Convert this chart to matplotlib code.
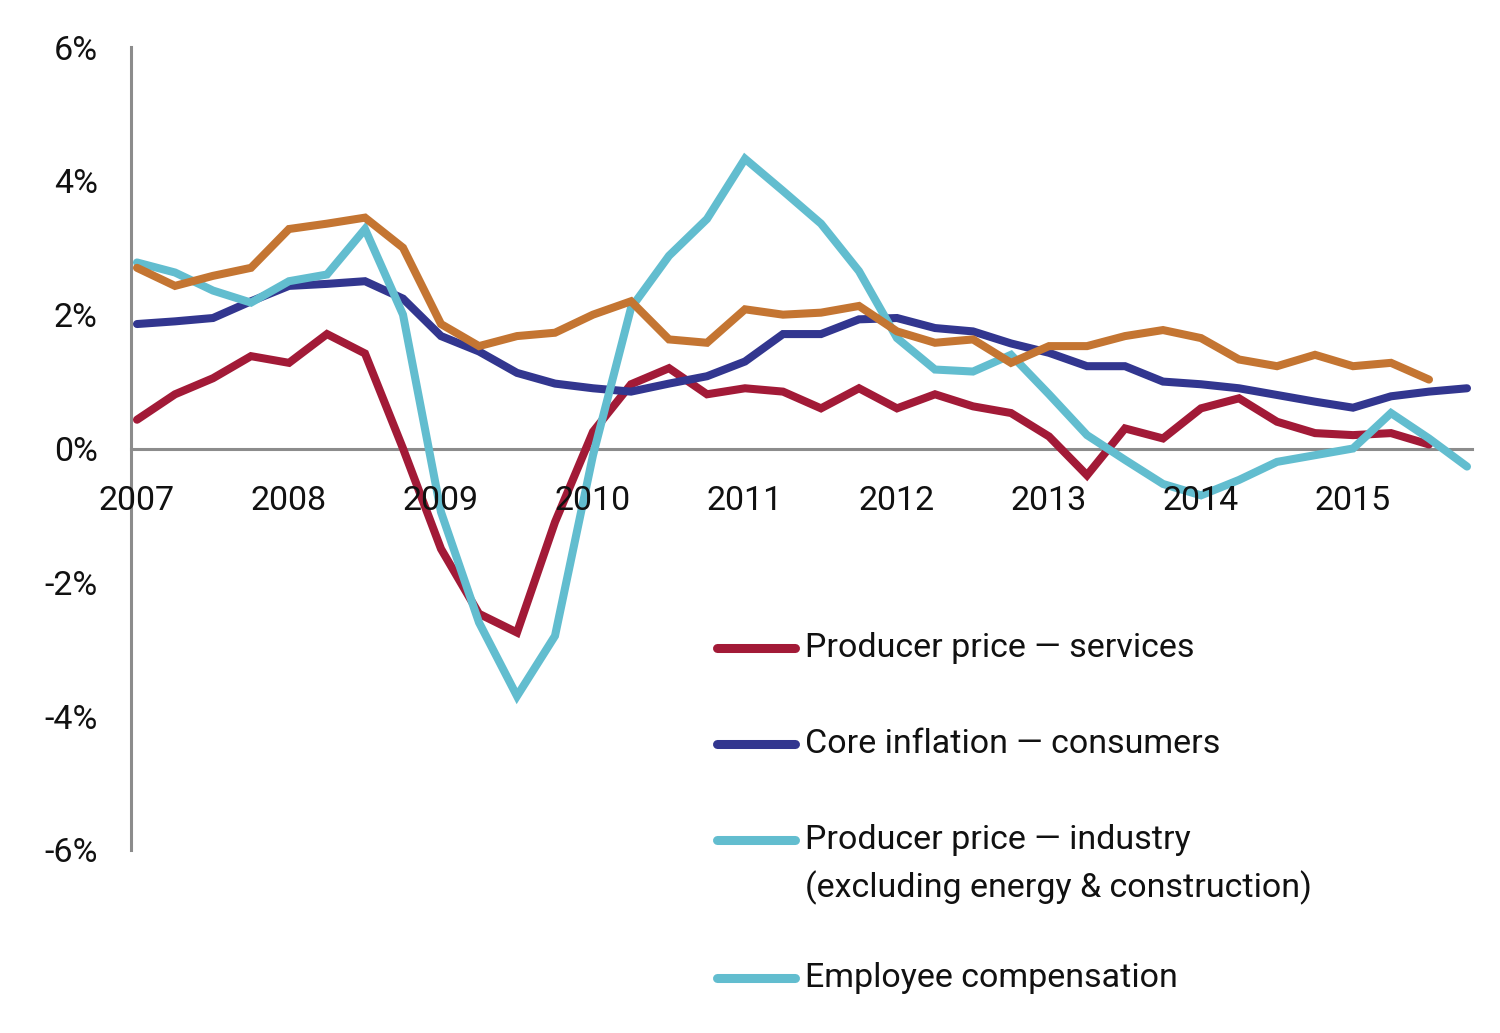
import matplotlib
matplotlib.use("Agg")
import matplotlib.pyplot as plt
from matplotlib.lines import Line2D

plt.rcParams['font.family'] = ['Roboto', 'DejaVu Sans']

years = ["2007", "2008", "2009", "2010", "2011", "2012", "2013", "2014", "2015"]
quarters = list(range(36))  # 2007Q1 .. 2015Q4

services = [0.43, 0.81, 1.05, 1.38, 1.28, 1.71, 1.42, 0.0, -1.5, -2.47, -2.75, -1.1,
            0.25, 0.96, 1.2, 0.81, 0.9, 0.85, 0.6, 0.9, 0.6, 0.81, 0.63, 0.53,
            0.18, -0.4, 0.3, 0.15, 0.6, 0.75, 0.4, 0.23, 0.2, 0.23, 0.06]
core = [1.86, 1.9, 1.95, 2.2, 2.43, 2.46, 2.5, 2.24, 1.68, 1.45, 1.13, 0.97,
        0.9, 0.85, 0.97, 1.08, 1.3, 1.71, 1.71, 1.93, 1.95, 1.8, 1.75, 1.57,
        1.43, 1.23, 1.23, 1.0, 0.96, 0.9, 0.8, 0.7, 0.61, 0.78, 0.85, 0.9]
industry = [2.78, 2.63, 2.36, 2.18, 2.5, 2.6, 3.28, 2.0, -0.95, -2.6, -3.7, -2.8,
            -0.1, 2.1, 2.88, 3.43, 4.33, 3.85, 3.36, 2.65, 1.65, 1.18, 1.15, 1.4,
            0.81, 0.2, -0.17, -0.53, -0.7, -0.47, -0.2, -0.1, 0.0, 0.53, 0.15, -0.27]
compensation = [2.7, 2.43, 2.58, 2.7, 3.28, 3.36, 3.45, 3.0, 1.86, 1.53, 1.68, 1.73,
                2.0, 2.2, 1.63, 1.58, 2.08, 2.0, 2.03, 2.13, 1.75, 1.58, 1.63, 1.28,
                1.53, 1.53, 1.68, 1.77, 1.65, 1.33, 1.23, 1.4, 1.23, 1.28, 1.03]

yticks = [-6, -4, -2, 0, 2, 4, 6]
ytick_labels = ["-6%", "-4%", "-2%", "0%", "2%", "4%", "6%"]

legend_labels = ["Producer price \u2014 services",
                 "Core inflation \u2014 consumers",
                 "Producer price \u2014 industry",
                 "Employee compensation"]
legend_extra = "(excluding energy & construction)"

RED = "#A21A37"
BLUE = "#32368F"
CYAN = "#62BDCF"
ORANGE = "#C47532"
GRAY = "#8C8C8C"
TXT = "#111111"
FS = 24.5

fig = plt.figure(figsize=(15, 10.33), dpi=100)
ax = fig.add_axes([131/1500, 1-850/1033, (1472-131)/1500, (850-47)/1033])

lw = 5.8
kw = dict(lw=lw, solid_capstyle='round', solid_joinstyle='miter')
ax.plot(quarters[:len(services)], services, color=RED, **kw, zorder=3)
ax.plot(quarters[:len(core)], core, color=BLUE, **kw, zorder=4)
ax.plot(quarters[:len(industry)], industry, color=CYAN, **kw, zorder=5)
ax.plot(quarters[:len(compensation)], compensation, color=ORANGE, **kw, zorder=6)

ax.set_ylim(-6, 6)
ax.set_xlim((131-137)/38, (1472-137)/38)

for s in ['top', 'right']:
    ax.spines[s].set_visible(False)
ax.spines['bottom'].set_position(('data', 0))
for s in ['bottom', 'left']:
    ax.spines[s].set_color(GRAY)
    ax.spines[s].set_linewidth(2.2)
    ax.spines[s].set_zorder(2)

ax.set_yticks(yticks)
ax.set_yticklabels(ytick_labels, fontsize=FS, color=TXT)
ax.tick_params(axis='y', length=0, pad=24)
ax.set_xticks([4*i for i in range(len(years))])
ax.set_xticklabels(years, fontsize=FS, color=TXT)
ax.tick_params(axis='x', length=0, pad=26)
ax.xaxis.set_zorder(10)

# legend (manual, matching reference layout)
legend_colors = [RED, BLUE, CYAN, CYAN]
legend_y = [648, 744, 840, 978]
for lab, col, yy in zip(legend_labels, legend_colors, legend_y):
    yf = 1 - yy/1033
    fig.add_artist(Line2D([717/1500, 795/1500], [yf, yf], color=col, lw=6.5,
                          solid_capstyle='round', transform=fig.transFigure))
    fig.text(805/1500, yf, lab, fontsize=FS, color=TXT, va='center', ha='left')
fig.text(805/1500, 1 - 888/1033, legend_extra, fontsize=FS, color=TXT, va='center', ha='left')

fig.savefig("out.png", dpi=100)
